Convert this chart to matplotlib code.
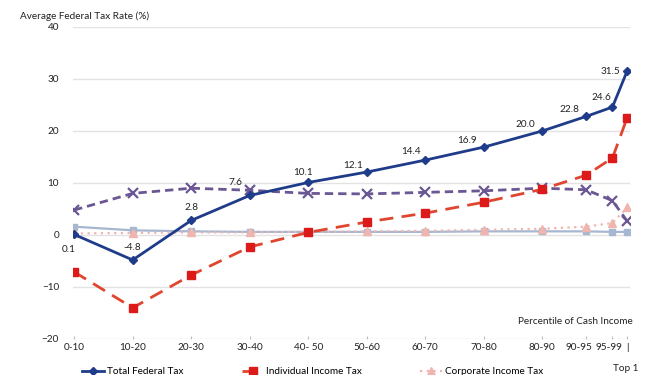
import matplotlib.pyplot as plt
from matplotlib.transforms import ScaledTranslation

plt.rcParams['font.family'] = ['Lato', 'DejaVu Sans']

# categories and their positions on the x scale (the last three buckets are squeezed)
categories = ['0-10', '10-20', '20-30', '30-40', '40- 50', '50-60', '60-70',
              '70-80', '80-90', '90-95', '95-99', 'Top 1']
xpos = [0, 1, 2, 3, 4, 5, 6, 7, 8, 8.75, 9.2, 9.45]

total_federal = [0.1, -4.8, 2.8, 7.6, 10.1, 12.1, 14.4, 16.9, 20.0, 22.8, 24.6, 31.5]
individual_income = [-7.1, -14.0, -7.7, -2.3, 0.5, 2.5, 4.2, 6.3, 8.8, 11.5, 14.8, 22.5]
payroll = [4.8, 8.0, 9.0, 8.6, 8.0, 7.9, 8.2, 8.5, 9.0, 8.7, 6.6, 2.7]
excise = [1.6, 0.9, 0.7, 0.6, 0.6, 0.6, 0.6, 0.7, 0.7, 0.7, 0.6, 0.6]
corporate = [0.3, 0.4, 0.5, 0.5, 0.6, 0.7, 0.8, 1.0, 1.2, 1.6, 2.3, 5.3]

# label offsets for the total line, in points
label_offsets = [(-4, -11), (0, 9), (0, 9), (-10, 9), (-4, 7), (-10, 5), (-10, 6),
                 (-12, 5), (-12, 5), (-12, 5), (-8, 7), (-12, 0)]

FS = 7.2
TXT = '#222222'

fig = plt.figure(figsize=(6.5, 3.75), dpi=100)
ax = fig.add_axes([73 / 650, 36 / 375, 557 / 650, 312 / 375])

ax.plot(xpos, excise, color='#A6B7D1', linewidth=1.6, marker='s', markersize=5,
        label='Excise Tax', zorder=2)
ax.plot(xpos, corporate, color='#F0B5AE', linewidth=1.6, linestyle=(0, (1, 2)),
        marker='^', markersize=6, label='Corporate Income Tax', zorder=2)
ax.plot(xpos, payroll, color='#6A5793', linewidth=2, linestyle=(0, (3, 1.8)),
        marker='x', markersize=7, markeredgewidth=1.6, label='Payroll Tax', zorder=3)
ax.plot(xpos, individual_income, color='#E0462F', linewidth=2, linestyle=(0, (5, 3)),
        marker='s', markersize=6, markerfacecolor='#DD1A1A', markeredgecolor='#DD1A1A',
        label='Individual Income Tax', zorder=3)
ax.plot(xpos, total_federal, color='#1F3C8A', linewidth=2, marker='D', markersize=4.5,
        label='Total Federal Tax', zorder=4)

for x, v, off in zip(xpos, total_federal, label_offsets):
    ax.annotate(f'{v:.1f}', (x, v), xytext=off, textcoords='offset points',
                ha='center', va='center', fontsize=FS, color=TXT)

ax.set_xlim(-0.02, 9.5)
ax.set_ylim(-20, 40)
ax.set_yticks(range(-20, 41, 10))
ax.set_xticks(xpos)
# the last bucket's label wraps under a "|" in the reference
ax.set_xticklabels(categories[:-1] + ['|'], fontsize=FS, color=TXT)
ax.annotate(categories[-1], (xpos[-1], 0), xycoords=('data', 'axes fraction'),
            xytext=(-1, -18), textcoords='offset points', ha='center', va='top',
            fontsize=FS, color=TXT)
ax.tick_params(axis='y', length=0, labelsize=FS, labelcolor=TXT, pad=10)
ax.tick_params(axis='x', direction='in', length=2, color='#BBBBBB', pad=3)
ax.grid(axis='y', color='#E3E3E3', linewidth=1)
ax.set_axisbelow(True)
for s in ax.spines.values():
    s.set_visible(False)

# nudge the crowded top-bucket labels to the left
shifts = {9: -7, 10: -4, 11: 0}
for i, lab in enumerate(ax.get_xticklabels()):
    if i in shifts:
        lab.set_transform(lab.get_transform() +
                          ScaledTranslation(shifts[i] / 100, 0, fig.dpi_scale_trans))

ax.text(1.005, 0.055, 'Percentile of Cash Income', transform=ax.transAxes,
        ha='right', va='center', fontsize=FS, color=TXT)
fig.text(20 / 650, 1 - 16 / 375, 'Average Federal Tax Rate (%)', ha='left',
         va='center', fontsize=FS, color=TXT)

handles, labels = ax.get_legend_handles_labels()
# legend fills column by column, so interleave to get the reference's first row
order = ['Total Federal Tax', 'Payroll Tax', 'Individual Income Tax', 'Excise Tax',
         'Corporate Income Tax']
hmap = dict(zip(labels, handles))
fig.legend([hmap[k] for k in order], order, loc='upper left',
           bbox_to_anchor=(82 / 650, 8 / 375), ncol=3, frameon=False, fontsize=FS,
           handlelength=2.2, handletextpad=0.3, columnspacing=5.8, borderaxespad=0,
           borderpad=0)

fig.savefig('out.png', dpi=100)
